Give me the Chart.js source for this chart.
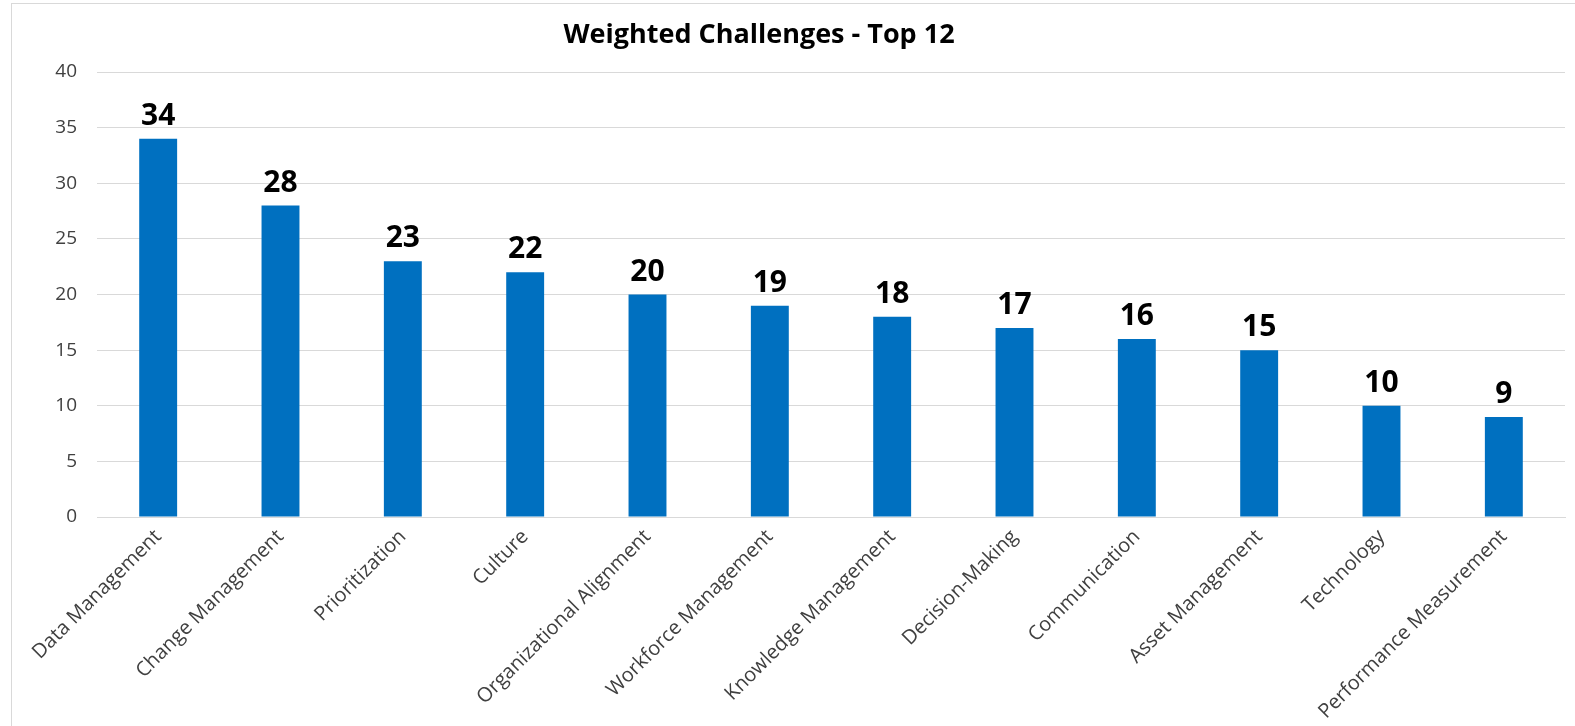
<!DOCTYPE html>
<html>
<head>
<meta charset="utf-8">
<script src="https://cdn.jsdelivr.net/npm/chart.js@4"></script>
<style>
    body { margin: 0; background: white; }
    #grafico { display: block; }
</style>
</head>
<body>
<div style="width: 1575px; height: 726px;">
    <canvas id="grafico"></canvas>
</div>
<script>
const titulo = "Weighted Challenges - Top 12";
const categorias = [
    "Data Management", "Change Management", "Prioritization", "Culture",
    "Organizational Alignment", "Workforce Management", "Knowledge Management",
    "Decision-Making", "Communication", "Asset Management", "Technology",
    "Performance Measurement"
];
const pontos = [34, 28, 23, 22, 20, 19, 18, 17, 16, 15, 10, 9];
const ticksY = [0, 5, 10, 15, 20, 25, 30, 35, 40];

// escreve o valor em cima de cada barra
const rotulosBarras = {
    id: 'rotulosBarras',
    afterDatasetsDraw(chart) {
        const ctx = chart.ctx;
        const meta = chart.getDatasetMeta(0);
        ctx.save();
        ctx.fillStyle = '#000000';
        ctx.font = 'bold 30px "Open Sans"';
        ctx.textAlign = 'center';
        ctx.textBaseline = 'alphabetic';
        meta.data.forEach(function (barra, i) {
            ctx.fillText(pontos[i], barra.x, barra.y - 14);
        });
        ctx.restore();
    }
};

// moldura cinza e titulo (o titulo do original nao fica no centro exato)
const moldura = {
    id: 'moldura',
    beforeDraw(chart) {
        const ctx = chart.ctx;
        ctx.save();
        ctx.fillStyle = 'white';
        ctx.fillRect(0, 0, chart.width, chart.height);
        ctx.strokeStyle = '#d9d9d9';
        ctx.lineWidth = 1;
        ctx.strokeRect(11.5, 3.5, 2000, 2000);
        ctx.fillStyle = '#000000';
        ctx.font = 'bold 27px "Open Sans"';
        ctx.textAlign = 'center';
        ctx.textBaseline = 'middle';
        ctx.fillText(titulo, 759, 35);
        ctx.restore();
    }
};

const ctxGrafico = document.getElementById('grafico');
var grafico = new Chart(ctxGrafico, {
    type: 'bar',
    data: {
        labels: categorias,
        datasets: [{
            label: 'Weighted',
            data: pontos,
            backgroundColor: '#0070C0',
            barPercentage: 0.62,
            categoryPercentage: 0.5
        }]
    },
    options: {
        responsive: true,
        maintainAspectRatio: false,
        animation: false,
        layout: {
            padding: { left: 0, right: 10, top: 72, bottom: 0 }
        },
        plugins: {
            legend: { display: false },
            tooltip: { enabled: false },
            title: { display: false }
        },
        scales: {
            y: {
                min: 0,
                max: 40,
                afterBuildTicks: function (escala) {
                    escala.ticks = ticksY.map(v => ({ value: v }));
                },
                afterFit: function (escala) {
                    escala.width = 97;
                },
                ticks: {
                    color: '#404040',
                    padding: 20,
                    font: { family: '"Open Sans"', size: 19 }
                },
                grid: {
                    color: '#d9d9d9',
                    drawTicks: false
                },
                border: { display: false }
            },
            x: {
                afterFit: function (escala) {
                    escala.height = 209;
                },
                ticks: {
                    color: '#404040',
                    minRotation: 45,
                    maxRotation: 45,
                    padding: 8,
                    autoSkip: false,
                    font: { family: '"Open Sans"', size: 20 }
                },
                grid: {
                    display: false,
                    drawTicks: false
                },
                border: { display: true, color: '#d9d9d9' }
            }
        }
    },
    plugins: [moldura, rotulosBarras]
});
</script>
</body>
</html>
